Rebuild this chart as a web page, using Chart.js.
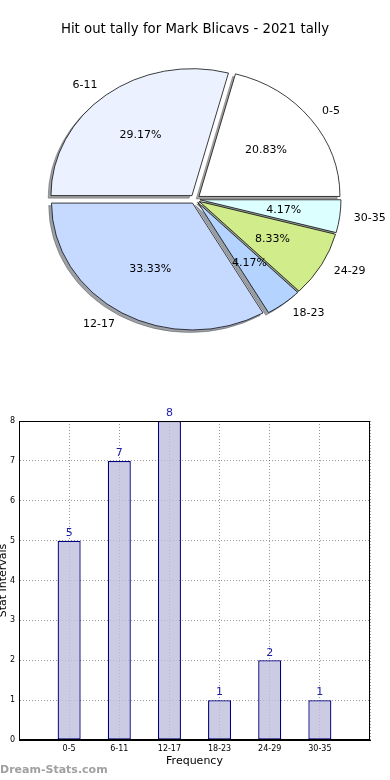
<!DOCTYPE html>
<html>
<head>
<meta charset="utf-8">
<script src="https://cdn.jsdelivr.net/npm/chart.js@4/dist/chart.umd.min.js"></script>
<style>
  html, body { margin: 0; padding: 0; background: #fff; }
  body { width: 390px; height: 780px; position: relative; overflow: hidden; font-family: "DejaVu Sans", sans-serif; }
  #pieWrap { position: absolute; left: 0; top: 0; width: 390px; height: 400px; }
  #barWrap { position: absolute; left: 0; top: 400px; width: 390px; height: 380px; }
  #wm { position: absolute; left: 0; top: 763px; font: bold 11px "DejaVu Sans", sans-serif; color: #a0a0a0; }
</style>
</head>
<body>
<div id="pieWrap"><canvas id="pie" width="390" height="400"></canvas></div>
<div id="barWrap"><canvas id="bar" width="390" height="380"></canvas></div>
<div id="wm">Dream-Stats.com</div>
<script>
// ---- data ----
const titleText = 'Hit out tally for Mark Blicavs - 2021 tally';
const categories = ['0-5', '6-11', '12-17', '18-23', '24-29', '30-35'];
const counts = [5, 7, 8, 1, 2, 1];
const percentLabels = ['20.83%', '29.17%', '33.33%', '4.17%', '8.33%', '4.17%'];
const sliceColors = ['#ffffff', '#ebf1ff', '#c6d9ff', '#b4d4ff', '#d1ec8b', '#dcffff'];
const yTicks = [0, 1, 2, 3, 4, 5, 6, 7, 8];

// ---- pie (matplotlib style: counter-clockwise from east, exploded, shadowed, elliptical) ----
const SQUASH = 0.9;      // vertical/horizontal radius ratio
const EXPLODE = 5;       // px
const SHADOW = {dx: -2.8, dy: 2.8};
const revCats = categories.slice().reverse();
const revCounts = counts.slice().reverse();
const revColors = sliceColors.slice().reverse();
const revPct = percentLabels.slice().reverse();

function shadowColor(hex) {
  const n = parseInt(hex.slice(1), 16);
  const r = ((n >> 16) & 255) * 0.3, g = ((n >> 8) & 255) * 0.3, b = (n & 255) * 0.3;
  return `rgba(${r|0},${g|0},${b|0},0.5)`;
}

const piePlugin = {
  id: 'mplPie',
  beforeDatasetsDraw(chart) {
    const ctx = chart.ctx;
    const arcs = chart.getDatasetMeta(0).data;
    if (!arcs.length) return false;
    const cx = arcs[0].x, cy = arcs[0].y;
    ctx.save();
    ctx.translate(cx, cy);
    ctx.scale(1, SQUASH);
    ctx.translate(-cx, -cy);
    // shadows first (below every wedge)
    arcs.forEach((arc, i) => {
      const mid = (arc.startAngle + arc.endAngle) / 2;
      const o = arc.options;
      const sc = shadowColor(revColors[i]);
      arc.options = Object.assign({}, o, {backgroundColor: sc, borderColor: sc});
      ctx.save();
      ctx.translate(Math.cos(mid) * EXPLODE + SHADOW.dx, Math.sin(mid) * EXPLODE + SHADOW.dy);
      arc.draw(ctx);
      ctx.restore();
      arc.options = o;
    });
    arcs.forEach((arc) => {
      const mid = (arc.startAngle + arc.endAngle) / 2;
      ctx.save();
      ctx.translate(Math.cos(mid) * EXPLODE, Math.sin(mid) * EXPLODE);
      arc.draw(ctx);
      ctx.restore();
    });
    ctx.restore();
    return false;
  },
  afterDraw(chart) {
    const ctx = chart.ctx;
    const arcs = chart.getDatasetMeta(0).data;
    ctx.save();
    ctx.fillStyle = '#000';
    ctx.font = '11px "DejaVu Sans"';
    arcs.forEach((arc, i) => {
      const mid = (arc.startAngle + arc.endAngle) / 2;
      const r = arc.outerRadius;
      const c = Math.cos(mid), s = Math.sin(mid);
      // percentage inside
      const pr = 0.6 * r + EXPLODE;
      ctx.textAlign = 'center';
      ctx.textBaseline = 'middle';
      ctx.fillText(revPct[i], arc.x + c * pr, arc.y + s * pr * SQUASH);
      // category label outside
      const lr = 1.1 * r + EXPLODE;
      ctx.textAlign = c >= 0 ? 'left' : 'right';
      ctx.fillText(revCats[i], arc.x + c * lr, arc.y + s * lr * SQUASH);
    });
    ctx.restore();
  }
};

new Chart(document.getElementById('pie'), {
  type: 'pie',
  data: {
    labels: revCats,
    datasets: [{
      data: revCounts,
      backgroundColor: revColors,
      borderColor: '#000',
      borderWidth: 0.8,
      borderJoinStyle: 'miter'
    }]
  },
  options: {
    responsive: false,
    animation: false,
    rotation: 90,
    radius: 141,
    layout: { padding: { top: 0, bottom: 61.6, left: 0, right: 0 } },
    plugins: {
      legend: { display: false },
      tooltip: { enabled: false },
      title: {
        display: true,
        text: titleText,
        color: '#000',
        font: { family: '"DejaVu Sans"', size: 13.3, weight: 'normal', lineHeight: 1.2 },
        padding: { top: 22, bottom: 22 }
      }
    }
  },
  plugins: [piePlugin]
});

// ---- bar chart ----
const barLabelPlugin = {
  id: 'barValues',
  afterDatasetsDraw(chart) {
    const ctx = chart.ctx;
    const meta = chart.getDatasetMeta(0);
    ctx.save();
    ctx.fillStyle = '#1c1ca8';
    ctx.font = '11px "DejaVu Sans"';
    ctx.textAlign = 'center';
    ctx.textBaseline = 'bottom';
    meta.data.forEach((bar, i) => {
      ctx.fillText(String(counts[i]), bar.x, bar.y - 2);
    });
    ctx.restore();
  }
};

const gridStyle = {
  color: 'rgba(0,0,0,0.4)',
  lineWidth: 1,
  drawTicks: false,
  offset: false
};

new Chart(document.getElementById('bar'), {
  type: 'bar',
  data: {
    datasets: [{
      data: counts.map((v, i) => ({x: i + 1, y: v})),
      backgroundColor: 'rgba(190,190,221,0.8)',
      borderColor: '#000080',
      borderWidth: 1.3,
      borderSkipped: false,
      barPercentage: 0.46,
      categoryPercentage: 1
    }]
  },
  options: {
    responsive: false,
    animation: false,
    layout: { padding: { top: 21, right: 20, left: 0, bottom: 0 } },
    plugins: { legend: { display: false }, tooltip: { enabled: false } },
    scales: {
      x: {
        type: 'linear',
        offset: false,
        min: 0, max: categories.length + 1,
        afterFit(s) { s.height = 40; },
        afterBuildTicks(s) { s.ticks = Array.from({length: categories.length + 2}, (_, i) => ({value: i})); },
        border: { display: true, color: '#000', width: 1, dash: [1, 2] },
        grid: gridStyle,
        ticks: {
          padding: 4,
          color: '#000',
          font: { family: '"DejaVu Sans"', size: 8 },
          maxRotation: 0,
          autoSkip: false,
          callback: (v) => categories[v - 1] || ''
        },
        title: {
          display: true, text: 'Frequency', color: '#000',
          font: { family: '"DejaVu Sans"', size: 11 },
          padding: { top: 0, bottom: 12.4 }
        }
      },
      y: {
        min: 0, max: 8,
        afterFit(s) { s.width = 19; },
        afterBuildTicks(s) { s.ticks = yTicks.map(v => ({value: v})); },
        border: { display: true, color: '#000', width: 1, dash: [1, 2] },
        grid: gridStyle,
        ticks: {
          padding: 4,
          color: '#000',
          font: { family: '"DejaVu Sans"', size: 8 }
        },
        title: {
          display: true, text: 'Stat Intervals', color: '#000',
          font: { family: '"DejaVu Sans"', size: 11 },
          padding: { top: -3, bottom: 0 }
        }
      }
    }
  },
  plugins: [barLabelPlugin, {
    id: 'frame',
    afterDraw(chart) {
      const {ctx, chartArea: a} = chart;
      ctx.save();
      ctx.strokeStyle = '#000';
      ctx.lineWidth = 1;
      ctx.setLineDash([]);
      ctx.strokeRect(a.left + 0.5, a.top + 0.5, a.right - a.left - 1, a.bottom - a.top - 1);
      ctx.restore();
    }
  }]
});
</script>
</body>
</html>
